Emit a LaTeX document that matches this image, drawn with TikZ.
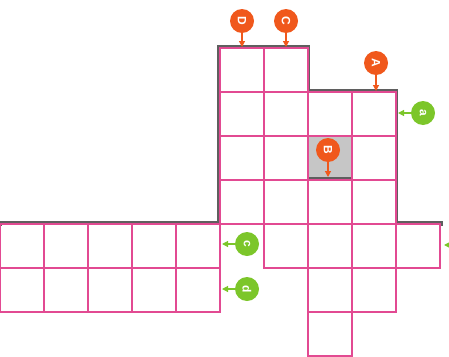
\documentclass[tikz,border=0pt]{standalone}
\usepackage{fontspec}
\setsansfont{Liberation Sans}
\usetikzlibrary{arrows.meta}
\definecolor{cellpink}{RGB}{226,74,146}
\definecolor{wallgrey}{RGB}{95,95,95}
\definecolor{blockgrey}{RGB}{198,198,198}
\definecolor{mkorange}{RGB}{240,88,28}
\definecolor{mkgreen}{RGB}{124,198,42}
\tikzset{
  cellbox/.style={draw=cellpink, line width=1.3pt},
  wall/.style={draw=wallgrey, line width=1.3pt},
  markbase/.style={circle, inner sep=0pt, minimum size=24pt, text=white,
     font=\sffamily\bfseries\fontsize{12}{12}\selectfont, rotate=-90},
  omark/.style={markbase, fill=mkorange},
  gmark/.style={markbase, fill=mkgreen},
  oarrow/.style={draw=mkorange, line width=1.2pt, -{Triangle[length=6pt,width=6pt]}},
  garrow/.style={draw=mkgreen, line width=1.2pt, -{Triangle[length=6pt,width=6pt]}}
}
\begin{document}
\begin{tikzpicture}[x=1pt,y=-1pt]
\useasboundingbox (0,0) rectangle (449,356);
% blocked cell
\fill[blockgrey] (308,136) rectangle (352,180);
% grey walls (offset outward)
\draw[wall] (1,226) -- (1,222) -- (218,222) -- (218,46) -- (309,46) -- (309,90) -- (397,90) -- (397,222) -- (442,222) -- (442,226);
\foreach \x in {44,88,132,176} \draw[wall,line width=0.9pt] (\x,222) -- (\x,225);
\draw[wall,line width=0.9pt] (264,46) -- (264,49);
\draw[wall,line width=0.9pt] (352,90) -- (352,93);
\draw[wall] (308,178) -- (352,178);
% cells
\foreach \x in {0,44,88,132,176} {
  \draw[cellbox] (\x,224) rectangle ++(44,44);
  \draw[cellbox] (\x,268) rectangle ++(44,44);
}
\foreach \y in {48,92,136,180} \draw[cellbox] (220,\y) rectangle ++(44,44);
\foreach \y in {48,92,136,180,224} \draw[cellbox] (264,\y) rectangle ++(44,44);
\foreach \y in {92,136,180,224,268,312} \draw[cellbox] (308,\y) rectangle ++(44,44);
\foreach \y in {92,136,180,224,268} \draw[cellbox] (352,\y) rectangle ++(44,44);
\draw[cellbox] (396,224) rectangle ++(44,44);
% orange markers
\node[omark] (mD) at (242,21) {D};
\coordinate (tD) at (242,47);
\node[omark] (mC) at (286,21) {C};
\coordinate (tC) at (286,47);
\node[omark] (mA) at (376,63) {A};
\coordinate (tA) at (376,91);
\node[omark] (mB) at (328,150) {B};
\coordinate (tB) at (328,177);
\draw[oarrow] (mD) -- (tD);
\draw[oarrow] (mC) -- (tC);
\draw[oarrow] (mA) -- (tA);
\draw[oarrow] (mB) -- (tB);
% green markers
\node[gmark] (ga) at (423,113) {a};
\coordinate (ta) at (398,113);
\node[gmark] (gc) at (247,244) {c};
\coordinate (tc) at (222,244);
\node[gmark] (gd) at (247,289) {d};
\coordinate (td) at (222,289);
\node[gmark] (ge) at (470,245) {};
\coordinate (te) at (444,245);
\draw[garrow] (ga) -- (ta);
\draw[garrow] (gc) -- (tc);
\draw[garrow] (gd) -- (td);
\draw[garrow] (ge) -- (te);
\end{tikzpicture}
\end{document}
